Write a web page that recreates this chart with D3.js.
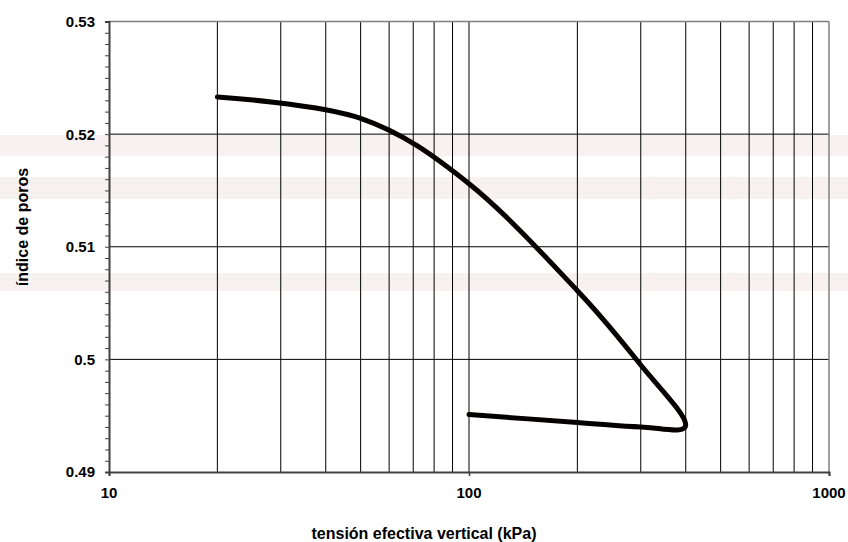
<!DOCTYPE html>
<html>
<head>
<meta charset="utf-8">
<script src="https://cdn.jsdelivr.net/npm/d3@7"></script>
<style>
  html, body { margin: 0; padding: 0; background: #fff; }
  svg { display: block; }
</style>
</head>
<body>
<div id="chart"></div>
<script>
// consolidation curve: load (kPa) vs void ratio, loading then unloading
const stress = [20, 50, 100, 200, 300, 400, 300, 200, 100]
const voidRatio = [0.5233, 0.5214, 0.5156, 0.5061, 0.4995, 0.4942, 0.4940, 0.4944, 0.4951]

const xTicks = [10, 100, 1000]
const xGrid = [20, 30, 40, 50, 60, 70, 80, 90, 100, 200, 300, 400, 500, 600, 700, 800, 900]
const yTicks = [0.49, 0.5, 0.51, 0.52, 0.53]
const yTickLabels = ['0.49', '0.5', '0.51', '0.52', '0.53']
const yGrid = [0.5, 0.51, 0.52]

const width = 848
const height = 542
const margin = { top: 21.5, right: 19, bottom: 70, left: 109 }
const font = 'Liberation Sans, Arial, sans-serif'

const svg = d3
  .select('#chart')
  .append('svg')
  .attr('width', width)
  .attr('height', height)

const x = d3.scaleLog().domain([10, 1000]).range([margin.left, width - margin.right])
const y = d3.scaleLinear().domain([0.49, 0.53]).range([height - margin.bottom, margin.top])

// faint watermark bands behind the chart
const wm = svg.append('g').attr('fill', '#f8f1f1')
wm.append('rect').attr('x', 0).attr('y', 135).attr('width', width).attr('height', 21)
wm.append('rect').attr('x', 0).attr('y', 177).attr('width', width).attr('height', 22)
wm.append('rect').attr('x', 0).attr('y', 273).attr('width', width).attr('height', 18)

const x0 = x.range()[0]
const x1 = x.range()[1]
const y0 = y.range()[0]
const y1 = y.range()[1]

// vertical grid
svg
  .append('g')
  .selectAll('line')
  .data(xGrid)
  .join('line')
  .attr('x1', (d) => x(d))
  .attr('x2', (d) => x(d))
  .attr('y1', y1)
  .attr('y2', y0)
  .attr('stroke', '#000')
  .attr('stroke-width', 1)

// horizontal grid
svg
  .append('g')
  .selectAll('line')
  .data(yGrid)
  .join('line')
  .attr('x1', x0)
  .attr('x2', x1)
  .attr('y1', (d) => y(d))
  .attr('y2', (d) => y(d))
  .attr('stroke', '#000')
  .attr('stroke-width', 1)

// top and right frame
svg.append('line').attr('x1', x0).attr('x2', x1).attr('y1', y1).attr('y2', y1)
  .attr('stroke', '#808080').attr('stroke-width', 1.5)
svg.append('line').attr('x1', x1).attr('x2', x1).attr('y1', y1).attr('y2', y0)
  .attr('stroke', '#808080').attr('stroke-width', 1.5)

// y axis with minor ticks every 0.001
const yAxis = d3
  .axisLeft(y)
  .tickValues(d3.range(0, 41).map((i) => 0.49 + i * 0.001))
  .tickSize(4)
  .tickFormat('')
svg
  .append('g')
  .attr('transform', `translate(${x0},0)`)
  .call(yAxis)
  .call((g) => g.select('.domain').attr('stroke', '#404040').attr('stroke-width', 2))
  .call((g) => g.selectAll('.tick line').attr('stroke', '#404040').attr('stroke-width', 1))

svg
  .append('g')
  .selectAll('text')
  .data(yTicks)
  .join('text')
  .attr('x', x0 - 14)
  .attr('y', (d) => y(d))
  .attr('dy', '0.36em')
  .attr('text-anchor', 'end')
  .attr('font-family', font)
  .attr('font-weight', 'bold')
  .attr('font-size', 15)
  .attr('fill', '#000')
  .text((d, i) => yTickLabels[i])

// x axis
const xAxis = d3.axisBottom(x).tickValues(xTicks).tickSize(4).tickFormat('')
svg
  .append('g')
  .attr('transform', `translate(0,${y0})`)
  .call(xAxis)
  .call((g) => g.select('.domain').attr('stroke', '#404040').attr('stroke-width', 2))
  .call((g) => g.selectAll('.tick line').attr('stroke', '#404040').attr('stroke-width', 1.5))

svg
  .append('g')
  .selectAll('text')
  .data(xTicks)
  .join('text')
  .attr('x', (d) => x(d))
  .attr('y', y0 + 26)
  .attr('text-anchor', 'middle')
  .attr('font-family', font)
  .attr('font-weight', 'bold')
  .attr('font-size', 15)
  .attr('fill', '#000')
  .text((d) => d)

// curve (smoothed like a spreadsheet line)
const line = d3
  .line()
  .x((d, i) => x(stress[i]))
  .y((d, i) => y(voidRatio[i]))
  .curve(d3.curveCardinal.tension(0))

svg
  .append('path')
  .datum(stress)
  .attr('d', line)
  .attr('fill', 'none')
  .attr('stroke', '#050000')
  .attr('stroke-width', 5)
  .attr('stroke-linecap', 'round')
  .attr('stroke-linejoin', 'round')

// axis titles
svg
  .append('text')
  .attr('transform', `translate(28,227) rotate(-90)`)
  .attr('text-anchor', 'middle')
  .attr('font-family', font)
  .attr('font-weight', 'bold')
  .attr('font-size', 16)
  .attr('fill', '#000')
  .text('índice de poros')

svg
  .append('text')
  .attr('x', width / 2)
  .attr('y', 539)
  .attr('text-anchor', 'middle')
  .attr('font-family', font)
  .attr('font-weight', 'bold')
  .attr('font-size', 16)
  .attr('fill', '#000')
  .text('tensión efectiva vertical (kPa)')
</script>
</body>
</html>
